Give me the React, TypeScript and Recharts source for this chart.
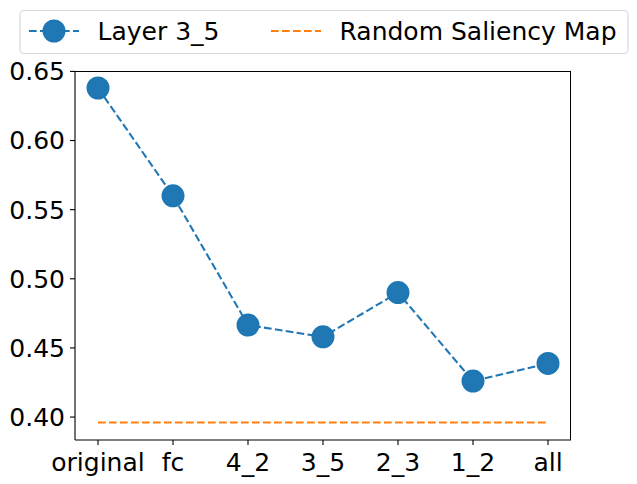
import React from 'react';
import { LineChart, Line, XAxis, YAxis } from 'recharts';

const categories = ['original', 'fc', '4_2', '3_5', '2_3', '1_2', 'all'];
const layerValues = [0.638, 0.560, 0.4665, 0.458, 0.490, 0.426, 0.4388];
const randomValues = [0.396, 0.396, 0.396, 0.396, 0.396, 0.396, 0.396];
const yTicks = [0.4, 0.45, 0.5, 0.55, 0.6, 0.65];

const data = categories.map((name, i) => ({
  name,
  layer: layerValues[i],
  random: randomValues[i],
}));

const font = 'DejaVu Sans';
const tickStyle = { fill: '#000', fontSize: 25, fontFamily: font };
const dash = '7.7 3.3';

const Legend = () => (
  <svg width={637} height={60} style={{ position: 'absolute', left: 0, top: 0 }}>
    <rect x={20} y={10.5} width={608} height={43} rx={4} fill="rgba(255,255,255,0.8)" stroke="#d6d6d6" strokeWidth={1.1} />
    <line x1={29} x2={79} y1={31} y2={31} stroke="#1f77b4" strokeWidth={2.08} strokeDasharray={dash} />
    <circle cx={54} cy={31} r={10.8} fill="#1f77b4" stroke="#1f77b4" strokeWidth={1.4} />
    <text x={97.5} y={39.5} fontSize={25} fontFamily={font} fill="#000">Layer 3_5</text>
    <line x1={271} x2={321} y1={31} y2={31} stroke="#ff7f0e" strokeWidth={2.08} strokeDasharray={dash} />
    <text x={339.5} y={39.5} fontSize={25} fontFamily={font} fill="#000">Random Saliency Map</text>
  </svg>
);

export default function App() {
  return (
    <div style={{ position: 'absolute', left: 0, top: 0, width: 637, height: 484, background: '#fff' }}>
      <LineChart width={637} height={484} data={data} margin={{ top: 71, right: 66, bottom: 0, left: 0 }}>
        <XAxis
          dataKey="name"
          type="category"
          padding={{ left: 23, right: 23 }}
          height={44}
          tick={tickStyle}
          tickSize={5}
          tickMargin={8}
          axisLine={{ stroke: '#000', strokeWidth: 1.1 }}
          tickLine={{ stroke: '#000', strokeWidth: 1.1 }}
          interval={0}
        />
        <YAxis
          width={75}
          domain={[0.3834, 0.6503]}
          ticks={yTicks}
          allowDataOverflow
          tickFormatter={(v: number) => v.toFixed(2)}
          tick={tickStyle}
          tickSize={5}
          tickMargin={5}
          axisLine={{ stroke: '#000', strokeWidth: 1.1 }}
          tickLine={{ stroke: '#000', strokeWidth: 1.1 }}
        />
        <Line
          dataKey="random"
          stroke="#ff7f0e"
          strokeWidth={2.08}
          strokeDasharray={dash}
          dot={false}
          isAnimationActive={false}
        />
        <Line
          dataKey="layer"
          stroke="#1f77b4"
          strokeWidth={2.08}
          strokeDasharray={dash}
          dot={{ r: 10.8, fill: '#1f77b4', stroke: '#1f77b4', strokeWidth: 1.4, strokeDasharray: '' }}
          isAnimationActive={false}
        />
      </LineChart>
      {/* top and right spines */}
      <div
        style={{
          position: 'absolute',
          left: 75,
          top: 71,
          width: 496,
          height: 369,
          borderTop: '1.1px solid #000',
          borderRight: '1.1px solid #000',
          boxSizing: 'border-box',
          pointerEvents: 'none',
        }}
      />
      <Legend />
    </div>
  );
}
